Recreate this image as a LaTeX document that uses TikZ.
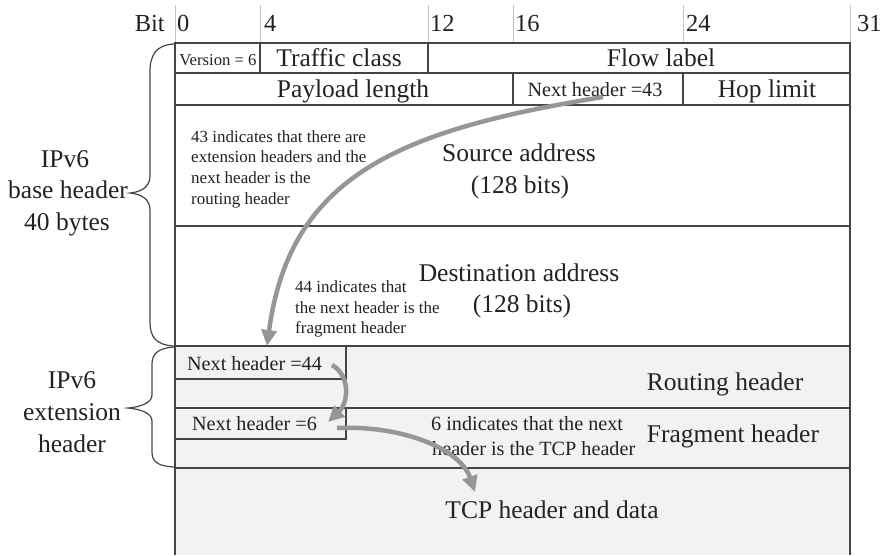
\documentclass[tikz,border=0pt]{standalone}
\usepackage{fontspec}
\setmainfont{Liberation Serif}
\usetikzlibrary{arrows.meta}
\definecolor{txt}{HTML}{222222}
\definecolor{grid}{HTML}{454545}
\definecolor{tick}{HTML}{C4C4C4}
\definecolor{ext}{HTML}{F2F2F2}
\definecolor{arr}{HTML}{969696}
\begin{document}
\begin{tikzpicture}[x=1pt,y=-1pt,
  big/.style={font=\fontsize{25.5}{30}\selectfont, text=txt, inner sep=0pt, anchor=base},
  mid/.style={font=\fontsize{20.2}{24}\selectfont, text=txt, inner sep=0pt, anchor=base},
  small/.style={font=\fontsize{17}{20}\selectfont, text=txt, inner sep=0pt, anchor=base west},
  vers/.style={font=\fontsize{16.7}{20}\selectfont, text=txt, inner sep=0pt, anchor=base},
  bitnum/.style={font=\fontsize{24.5}{28}\selectfont, text=txt, inner sep=0pt, anchor=base west},
  cell/.style={draw=grid, line width=1.2pt},
  tickline/.style={draw=tick, line width=1pt},
  flow/.style={draw=arr, line width=4.5pt, -{Triangle[length=16pt,width=15pt]}},
  bracel/.style={draw=grid, line width=1.2pt}
]
\useasboundingbox (0,0) rectangle (888,555);
% extension area fill
\fill[ext] (175,346) rectangle (850,555);
% bit ticks
\foreach \x in {175,260,428,513,683,850} \draw[tickline] (\x,5) -- (\x,43);
% grid
\draw[cell] (175,555) -- (175,43) -- (850,43) -- (850,555);
\foreach \y in {73,105,226,346,408,468} \draw[cell] (175,\y) -- (850,\y);
\draw[cell] (260,43) -- (260,73);
\draw[cell] (428,43) -- (428,73);
\draw[cell] (513,73) -- (513,105);
\draw[cell] (683,73) -- (683,105);
\draw[cell] (175,346) rectangle (346,379);
\draw[cell] (175,408) rectangle (346,439);
% braces
\draw[bracel] (174,44) .. controls (156,45) and (150,55) .. (150,72) -- (150,176)
  .. controls (150,187) and (141,192) .. (130,193)
  .. controls (141,194) and (150,199) .. (150,210) -- (150,322)
  .. controls (150,337) and (156,345) .. (174,346);
\draw[bracel] (174,347) .. controls (158,348) and (152,354) .. (152,364) -- (152,395)
  .. controls (152,403) and (140,407) .. (128,408)
  .. controls (140,409) and (152,413) .. (152,421) -- (152,452)
  .. controls (152,462) and (158,466) .. (174,467);
% bit labels
\node[bitnum, anchor=base east] (bit) at (165,31) {Bit};
\node[bitnum] (b0) at (177,31) {0};
\node[bitnum] (b4) at (264,31) {4};
\node[bitnum] (b12) at (430,31) {12};
\node[bitnum] (b16) at (515,31) {16};
\node[bitnum] (b24) at (686,31) {24};
\node[bitnum] (b31) at (857,31) {31};
% fields
\node[vers] (ver) at (218,65) {Version = 6};
\node[big] (tc) at (339,66) {Traffic class};
\node[big] (fl) at (661,66) {Flow label};
\node[big] (pl) at (353,97) {Payload length};
\node[mid] (nh43) at (595,96) {Next header =43};
\node[big] (hl) at (767,97) {Hop limit};
\node[big] (src) at (519,161) {Source address};
\node[big] (srcb) at (520,193) {(128 bits)};
\node[big] (dst) at (519,281) {Destination address};
\node[big] (dstb) at (522,312) {(128 bits)};
\node[mid] (nh44) at (254.5,370) {Next header =44};
\node[mid] (nh6) at (254.5,430) {Next header =6};
\node[big] (rh) at (725,390) {Routing header};
\node[big] (fh) at (733,442) {Fragment header};
\node[big] (tcp) at (552,518) {TCP header and data};
% annotations
\node[small] (n43a) at (191,142) {43 indicates that there are};
\node[small] (n43b) at (191,162.5) {extension headers and the};
\node[small] (n43c) at (191,183) {next header is the};
\node[small] (n43d) at (191,204) {routing header};
\node[small] (n44a) at (295,292) {44 indicates that};
\node[small] (n44b) at (295,313) {the next header is the};
\node[small] (n44c) at (295,333) {fragment header};
\node[mid, anchor=base west] (n6a) at (431,430) {6 indicates that the next};
\node[mid, anchor=base west] (n6b) at (432,455) {header is the TCP header};
% left labels
\node[big] (l1a) at (65,167) {IPv6};
\node[big] (l1b) at (68,198) {base header};
\node[big] (l1c) at (67,230) {40 bytes};
\node[big] (l2a) at (72,388) {IPv6};
\node[big] (l2b) at (72,420) {extension};
\node[big] (l2c) at (72,452) {header};
% arrows
\coordinate (a1s) at (603,97);
\coordinate (a1e) at (267,346);
\coordinate (a2s) at (332,365);
\coordinate (a2e) at (328,422);
\coordinate (a3s) at (337,428);
\coordinate (a3e) at (475,492);
\draw[flow] (a1s) .. controls (400,130) and (290,175) .. (a1e);
\draw[flow] (a2s) .. controls (350,375) and (349,402) .. (a2e);
\draw[flow] (a3s) .. controls (400,425) and (460,448) .. (a3e);
\end{tikzpicture}
\end{document}
